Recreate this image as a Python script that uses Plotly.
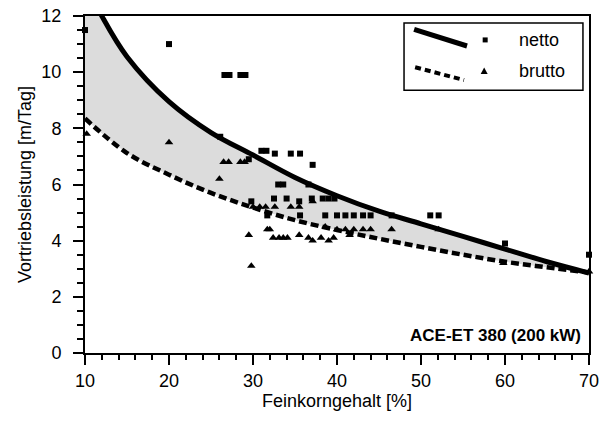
import plotly.graph_objects as go

# ---- fitted curves ----
netto_fit_x = [10, 12, 15, 20, 25, 30, 35, 40, 45, 50, 55, 60, 65, 70]
netto_fit_y = [13.2, 12.0, 10.55, 8.95, 7.85, 7.05, 6.25, 5.6, 5.05, 4.6, 4.15, 3.7, 3.25, 2.85]
brutto_fit_x = [10, 15, 20, 25, 30, 35, 40, 45, 50, 55, 60, 65, 70]
brutto_fit_y = [8.35, 7.12, 6.35, 5.7, 5.18, 4.73, 4.38, 4.07, 3.78, 3.5, 3.25, 3.05, 2.87]

# ---- measured points ----
netto_x = [10, 20, 26.6, 27.2, 28.5, 29.1, 26.1, 29.5, 31.0, 31.6, 32.6, 34.5, 35.6, 37.1,
           33.0, 33.6, 36.6, 29.8, 32.5, 34.0, 35.5, 37.0, 38.3, 39.0, 39.7,
           31.7, 35.6, 38.6, 40.0, 41.0, 42.0, 43.1, 44.0, 46.5, 51.1, 52.1, 60.0, 70.0]
netto_y = [11.5, 11.0, 9.9, 9.9, 9.9, 9.9, 7.7, 6.9, 7.2, 7.2, 7.1, 7.1, 7.1, 6.7,
           6.0, 6.0, 6.0, 5.4, 5.5, 5.5, 5.4, 5.5, 5.5, 5.5, 5.5,
           4.9, 4.9, 4.9, 4.9, 4.9, 4.9, 4.9, 4.9, 4.9, 4.9, 4.9, 3.9, 3.5]

brutto_x = [10.2, 20, 26.0, 26.5, 27.1, 28.5, 29.0, 30.0, 30.8, 31.5, 32.6, 34.5, 35.5, 37.1,
            31.7, 32.0, 35.5, 38.6, 40.0, 41.0, 42.0, 43.1, 44.0,
            32.4, 33.1, 33.6, 34.1, 29.5, 36.6, 37.1, 38.1, 39.0, 39.6, 41.5,
            29.8, 46.5, 52.1, 59.8, 70.0]
brutto_y = [7.8, 7.5, 6.2, 6.8, 6.8, 6.8, 6.8, 5.2, 5.2, 5.2, 5.2, 5.2, 5.2, 5.4,
            4.4, 4.4, 4.2, 4.5, 4.4, 4.4, 4.4, 4.4, 4.4,
            4.1, 4.1, 4.1, 4.1, 4.2, 4.1, 4.0, 4.1, 4.0, 4.1, 4.2,
            3.1, 4.4, 4.4, 3.2, 2.9]

series_names = ["netto", "brutto"]
x_title = "Feinkorngehalt [%]"
y_title = "Vortriebsleistung [m/Tag]"
label_text = "ACE-ET 380 (200 kW)"

FONT = "Liberation Sans, Arial, sans-serif"

fig = go.Figure()

fig.add_trace(go.Scatter(x=brutto_fit_x, y=brutto_fit_y, mode="lines",
                         line=dict(color="black", width=4.5, dash="8px,4px", shape="spline", smoothing=1),
                         showlegend=False, hoverinfo="skip"))
fig.add_trace(go.Scatter(x=netto_fit_x, y=netto_fit_y, mode="lines",
                         line=dict(color="black", width=5, shape="spline", smoothing=1),
                         fill="tonexty", fillcolor="#dcdcdc",
                         showlegend=False, hoverinfo="skip"))
fig.add_trace(go.Scatter(x=netto_x, y=netto_y, mode="markers", name=series_names[0],
                         marker=dict(symbol="square", size=6, color="black"),
                         showlegend=False, cliponaxis=False))
fig.add_trace(go.Scatter(x=brutto_x, y=brutto_y, mode="markers", name=series_names[1],
                         marker=dict(symbol="triangle-up", size=7.5, color="black"),
                         showlegend=False, cliponaxis=False))

# ---- hand-drawn legend (line sample, marker, label) ----
shapes = [
    dict(type="rect", xref="paper", yref="paper", x0=0.633, x1=0.988, y0=0.780, y1=0.979,
         line=dict(color="black", width=1.5), fillcolor="white", layer="above"),
    dict(type="line", xref="paper", yref="paper", x0=0.653, y0=0.960, x1=0.758, y1=0.911,
         line=dict(color="black", width=5), layer="above"),
    dict(type="line", xref="paper", yref="paper", x0=0.655, y0=0.848, x1=0.752, y1=0.810,
         line=dict(color="black", width=4, dash="6px,4px"), layer="above"),
    dict(type="rect", xref="paper", yref="paper", xsizemode="pixel", ysizemode="pixel",
         xanchor=0.794, yanchor=0.929, x0=-2.5, x1=2.5, y0=-2.5, y1=2.5,
         line=dict(width=0), fillcolor="black", layer="above"),
    dict(type="path", xref="paper", yref="paper", xsizemode="pixel", ysizemode="pixel",
         xanchor=0.792, yanchor=0.837, path="M -3.5 -3 L 3.5 -3 L 0 3.5 Z",
         line=dict(width=0), fillcolor="black", layer="above"),
]
annotations = [
    dict(text=series_names[0], xref="paper", yref="paper", x=0.857, y=0.929,
         xanchor="left", yanchor="middle", showarrow=False, font=dict(size=18)),
    dict(text=series_names[1], xref="paper", yref="paper", x=0.857, y=0.837,
         xanchor="left", yanchor="middle", showarrow=False, font=dict(size=18)),
    dict(text="<b>" + label_text + "</b>", xref="paper", yref="paper", x=0.988, y=0.053,
         xanchor="right", yanchor="middle", showarrow=False, font=dict(size=17)),
]

axis_common = dict(showline=True, linecolor="black", linewidth=2, mirror=True,
                   ticks="outside", ticklen=10, tickwidth=1.5, tickcolor="black",
                   showgrid=False, zeroline=False, automargin=False,
                   tickfont=dict(size=18, color="black"))

fig.update_layout(
    template="none",
    width=600, height=429,
    margin=dict(l=85, r=11, t=16, b=76, autoexpand=False),
    paper_bgcolor="white", plot_bgcolor="white",
    font=dict(family=FONT, color="black", size=18),
    showlegend=False,
    shapes=shapes,
    annotations=annotations,
    xaxis=dict(range=[10, 70], dtick=10, tick0=10,
               minor=dict(dtick=2, ticks="outside", ticklen=5, tickwidth=1.5, tickcolor="black"),
               title=dict(text=x_title, standoff=4, font=dict(size=18)),
               **axis_common),
    yaxis=dict(range=[0, 12], dtick=2, tick0=0, ticklabelstandoff=8,
               minor=dict(dtick=0.5, ticks="outside", ticklen=6, tickwidth=1.5, tickcolor="black"),
               title=dict(text=y_title, standoff=5, font=dict(size=18)),
               **axis_common),
)

fig.write_html("out.html",
               config={"displayModeBar": False},
               post_script="document.body.style.margin='0';document.body.style.padding='0';")
